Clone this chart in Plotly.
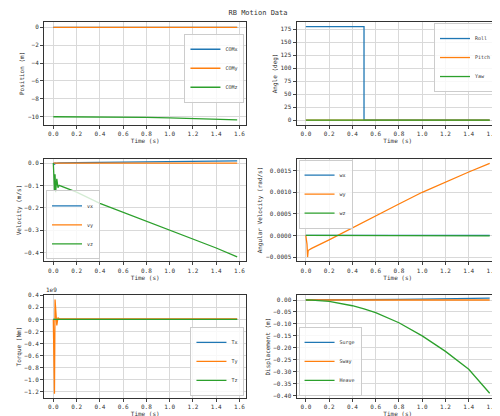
import plotly.graph_objects as go
from plotly.subplots import make_subplots

t = [0.0, 0.01, 0.015, 0.02, 0.03, 0.04, 0.05, 0.2, 0.4, 0.5, 0.5001, 0.6, 0.8, 1.0, 1.2, 1.4, 1.58]
comx = [0]*17
comy = [0]*17
comz = [-10, -10, -10, -10, -10, -10, -10, -10.0, -10.02, -10.03, -10.03, -10.04, -10.08, -10.13, -10.2, -10.27, -10.35]
roll = [180]*10 + [0]*7
pitch = [0]*17
yaw = [0]*17
vx = [0, -0.005, 0.0, -0.002, 0.0, 0.001, 0.001, 0.002, 0.003, 0.004, 0.004, 0.005, 0.006, 0.007, 0.008, 0.009, 0.01]
vy = [0]*17
vz = [0, -0.12, -0.05, -0.13, -0.07, -0.11, -0.1, -0.13, -0.18, -0.2, -0.2, -0.22, -0.26, -0.3, -0.34, -0.38, -0.42]
wx = [0]*17
wy = [0, -0.0002, -0.0005, -0.00035, -0.00033, -0.00032, -0.0003, -0.0001, 0.00018, 0.00032, 0.00032, 0.00046, 0.00073, 0.001, 0.00124, 0.00147, 0.00167]
wz = [0, 0, 0, 0, 0, 0, 0, 0, -0.000002, -0.000003, -0.000003, -0.000004, -0.000005, -0.000006, -0.000007, -0.000008, -0.00001]
tx = [0]*17
ty = [0, -1.23, 0.33, 0.1, -0.1, 0.03, 0.01, 0.01, 0.01, 0.01, 0.01, 0.01, 0.01, 0.01, 0.01, 0.01, 0.01]
tz = [0]*17
surge = [0, 0, 0, 0, 0, 0, 0, 0.0005, 0.001, 0.0015, 0.0015, 0.002, 0.003, 0.004, 0.005, 0.0065, 0.008]
sway = [0]*17
heave = [0, 0, 0, 0, 0, 0, -0.0005, -0.006, -0.024, -0.037, -0.037, -0.053, -0.095, -0.15, -0.215, -0.29, -0.39]

C = ['#1f77b4', '#ff7f0e', '#2ca02c']
fig = make_subplots(rows=3, cols=2, horizontal_spacing=0.11, vertical_spacing=0.09)
panels = [
    (1, 1, [('COMx', comx), ('COMy', comy), ('COMz', comz)], 'Position (m)', [-10.9, 0.6], 2, '.0f', dict(x=0.99, y=0.55, xanchor='right', yanchor='middle')),
    (1, 2, [('Roll', roll), ('Pitch', pitch), ('Yaw', yaw)], 'Angle (deg)', [-9, 189], 25, '.0f', dict(x=0.99, y=0.99, xanchor='right', yanchor='top')),
    (2, 1, [('vx', vx), ('vy', vy), ('vz', vz)], 'Velocity (m/s)', [-0.44, 0.02], 0.1, '.1f', dict(x=0.01, y=0.02, xanchor='left', yanchor='bottom')),
    (2, 2, [('wx', wx), ('wy', wy), ('wz', wz)], 'Angular Velocity (rad/s)', [-0.0006, 0.00178], 0.0005, '.4f', dict(x=0.01, y=0.99, xanchor='left', yanchor='top')),
    (3, 1, [('Tx', tx), ('Ty', ty), ('Tz', tz)], 'Torque (Nm)', [-1.3, 0.4], 0.2, '.1f', dict(x=0.99, y=0.02, xanchor='right', yanchor='bottom')),
    (3, 2, [('Surge', surge), ('Sway', sway), ('Heave', heave)], 'Displacement (m)', [-0.41, 0.02], 0.05, '.2f', dict(x=0.01, y=0.02, xanchor='left', yanchor='bottom')),
]
ax = dict(showgrid=True, gridcolor='#d9d9d9', showline=True, linecolor='#333', mirror=True, ticks='outside', ticklen=3,
          tickfont=dict(size=6), title_font=dict(size=6), title_standoff=2, zeroline=False)
for i, (r, c, series, ylab, yr, dt, fmt, lg) in enumerate(panels):
    name = 'legend' if i == 0 else 'legend%d' % (i + 1)
    sfx = '' if i == 0 else str(i + 1)
    for (n, v), col in zip(series, C):
        fig.add_trace(go.Scatter(x=t, y=v, name=n, mode='lines', line=dict(color=col, width=1.3), legend=name), row=r, col=c)
    xa = fig.layout['xaxis' + sfx]
    ya = fig.layout['yaxis' + sfx]
    xa.update(range=[-0.08, 1.66], autorange=False, tick0=0, dtick=0.2, tickformat='.1f', title_text='Time (s)', **ax)
    ya.update(range=yr, autorange=False, dtick=dt, tickformat=fmt, title_text=ylab, **ax)
    xd, yd = xa.domain, ya.domain
    fig.layout[name] = dict(x=xd[0] + lg['x'] * (xd[1] - xd[0]), y=yd[0] + lg['y'] * (yd[1] - yd[0]),
                            xanchor=lg['xanchor'], yanchor=lg['yanchor'], bgcolor='rgba(255,255,255,0.8)',
                            bordercolor='#cccccc', borderwidth=1, font=dict(size=5), tracegroupgap=0,
                            itemwidth=30, entrywidth=0)
ya5 = fig.layout.yaxis5.domain
fig.add_annotation(text='1e9', xref='paper', yref='paper', x=0.0, y=ya5[1], xanchor='left', yanchor='bottom', showarrow=False, font=dict(size=6))
fig.update_layout(width=500, height=416, margin=dict(l=36, r=8, t=14, b=22), plot_bgcolor='white', paper_bgcolor='white',
                  font=dict(family='DejaVu Sans Mono', size=6, color='#333'),
                  title=dict(text='RB Motion Data', x=0.5, y=0.995, yanchor='top', font=dict(size=7)))
fig.write_html('out.html')
